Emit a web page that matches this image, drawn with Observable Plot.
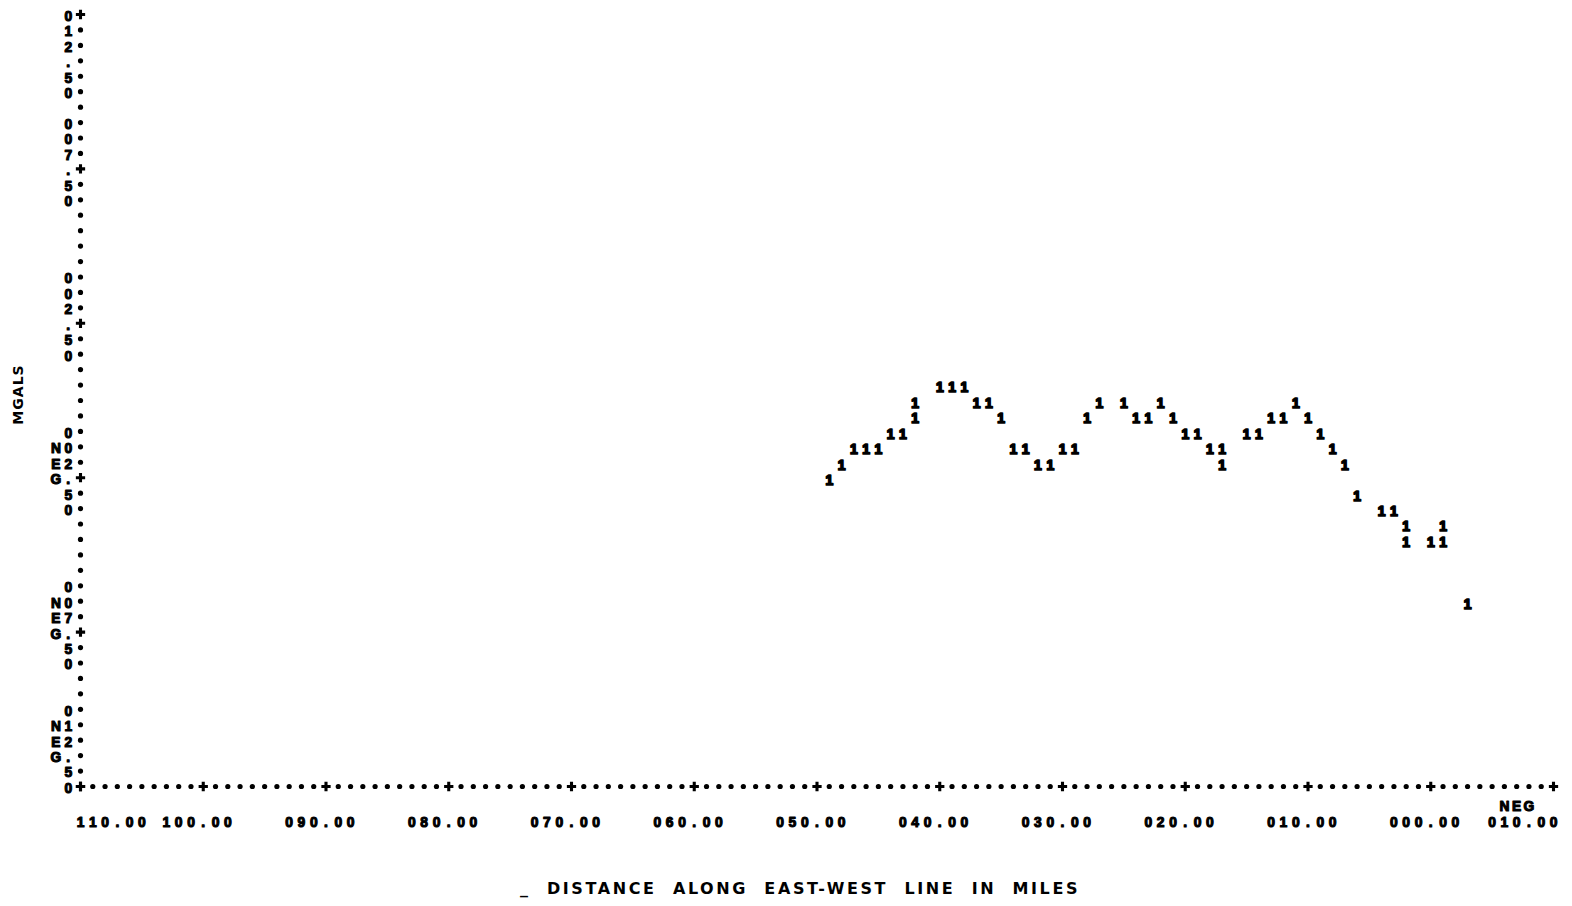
<!DOCTYPE html>
<html>
<head>
<meta charset="utf-8">
<script src="https://cdn.jsdelivr.net/npm/d3@7"></script>
<script src="https://cdn.jsdelivr.net/npm/@observablehq/plot@0.6"></script>
<style>
  html, body { margin: 0; padding: 0; background: #fff; }
  #chart { width: 1572px; height: 906px; }
</style>
</head>
<body>
<div id="chart"></div>
<script>
// ---- data ----
// distance along the east-west line (miles) and anomaly (mgals) of each "1" printed
const distance = [49,48,47,46,45,44,43,42,42,40,39,38,37,36,35,34,33,32,31,30,29,28,27,25,24,23,22,21,20,19,18,17,17,15,14,13,12,11,10,9,8,7,6,4,3,2,2,0,-1,-1,-3];
const mgals    = [-2.5,-2,-1.5,-1.5,-1.5,-1,-1,-0.5,0,0.5,0.5,0.5,0,0,-0.5,-1.5,-1.5,-2,-2,-1.5,-1.5,-0.5,0,0,-0.5,-0.5,0,-0.5,-1,-1,-1.5,-1.5,-2,-1,-1,-0.5,-0.5,0,-0.5,-1,-1.5,-2,-3,-3.5,-3.5,-4,-4.5,-4.5,-4,-4.5,-6.5];

// axes
const xDomain = [110, -10];
const yDomain = [-12.5, 12.5];
const xTickValues = [110, 100, 90, 80, 70, 60, 50, 40, 30, 20, 10, 0, -10];
const xTickLabels = ["110.00","100.00","090.00","080.00","070.00","060.00","050.00","040.00","030.00","020.00","010.00","000.00","010.00"];
const xTickNeg    = [false,false,false,false,false,false,false,false,false,false,false,false,true];
const yTickValues = [12.5, 7.5, 2.5, -2.5, -7.5, -12.5];
const yTickLabels = ["012.50","007.50","002.50","002.50","007.50","012.50"];
const yTickNeg    = [false,false,false,true,true,true];
const xTitle = "_  DISTANCE  ALONG  EAST-WEST  LINE  IN  MILES";
const yTitle = "MGALS";

// ---- build tables ----
const points = distance.map((d, i) => ({d, v: mgals[i]}));

const colStep = 1;    // one printer column = 1 mile
const rowStep = 0.5;  // one printer line = 0.5 mgal
const xMax = xDomain[0], xMin = xDomain[1];
const yMax = yDomain[1], yMin = yDomain[0];
const fs = 13.8;                  // printer glyph size

// axis dots / plus signs
const xAxisCols = d3.range(xMax, xMin - 0.001, -colStep);
const xPlus = xAxisCols.filter(c => c % 10 === 0);
const xDots = xAxisCols.filter(c => c % 10 !== 0);
const yAxisRows = d3.range(yMax, yMin - 0.001, -rowStep);
const yPlus = yAxisRows.filter(r => yTickValues.includes(r));
const yDots = yAxisRows.filter(r => !yTickValues.includes(r));

// x tick label characters on the printer grid ("." under the tick); "NEG" printed on the line above
const xChars = [];
xTickValues.forEach((t, i) => {
  const s = xTickLabels[i];
  let start = t + 3 * colStep;
  start = Math.min(start, xMax);
  start = Math.max(start, xMin + (s.length - 1) * colStep);
  [...s].forEach((ch, j) => xChars.push({c: start - j * colStep, line: 2.2, ch}));
  if (xTickNeg[i]) [..."NEG"].forEach((ch, j) => xChars.push({c: start - (j + 1) * colStep, line: 1.2, ch}));
});

// y tick label characters, written downward ("." on the tick line); "NEG" in the column to the left
const yChars = [];
yTickValues.forEach((t, i) => {
  const s = yTickLabels[i];
  let start = t + 3 * rowStep;
  start = Math.min(start, yMax);
  start = Math.max(start, yMin + (s.length - 1) * rowStep);
  [...s].forEach((ch, j) => yChars.push({r: start - j * rowStep, col: 1, ch}));
  if (yTickNeg[i]) [..."NEG"].forEach((ch, j) => yChars.push({r: start - (j + 1) * rowStep, col: 2, ch}));
});

const printFont = "'Liberation Sans', Arial, sans-serif";
const glyph = {fontFamily: printFont, fontSize: fs, fontWeight: "bold", fill: "#000", stroke: "#000", strokeWidth: 1.1, strokeLinejoin: "round"};

const chart = Plot.plot({
  width: 1572,
  height: 906,
  marginLeft: 80,
  marginRight: 19,
  marginTop: 14,
  marginBottom: 120,
  x: {domain: xDomain, axis: null},
  y: {domain: yDomain, axis: null},
  style: {fontFamily: "'DejaVu Sans', sans-serif", background: "#fff", color: "#000"},
  marks: [
    // x axis line of dots and plus signs
    Plot.dot(xDots, {x: d => d, y: () => yMin, r: 2.6, fill: "#000", stroke: "none"}),
    Plot.dot(xPlus, {x: d => d, y: () => yMin, r: 3.9, symbol: "cross", fill: "#000", stroke: "none"}),
    // y axis column
    Plot.dot(yDots, {x: () => xMax, y: d => d, r: 2.6, fill: "#000", stroke: "none"}),
    Plot.dot(yPlus, {x: () => xMax, y: d => d, r: 3.9, symbol: "cross", fill: "#000", stroke: "none"}),
    // x tick labels
    Plot.text(xChars, {x: "c", y: d => yMin - d.line * rowStep, text: "ch", dy: 2, ...glyph}),
    // y tick labels
    Plot.text(yChars, {x: d => xMax + d.col * colStep, y: "r", text: "ch", dy: 2, ...glyph}),
    // data: printed "1" symbols
    Plot.text(points, {x: "d", y: "v", text: () => "1", dy: 3, ...glyph, strokeWidth: 1.7}),
    // axis titles
    Plot.text([xTitle], {frameAnchor: "bottom", lineAnchor: "middle", textAnchor: "middle", dx: -17, dy: 102, fontSize: 16, fontWeight: "bold", fill: "#000"}),
    Plot.text([yTitle], {frameAnchor: "left", lineAnchor: "middle", textAnchor: "middle", dx: -62, dy: -6, rotate: -90, fontSize: 14, fontWeight: "bold", fill: "#000"})
  ]
});

// keep multiple spaces in the title, and spread letters like the printer did
d3.select(chart).selectAll("text").filter(function() { return this.textContent === xTitle; })
  .attr("xml:space", "preserve").style("white-space", "pre").style("letter-spacing", "2.6px");
d3.select(chart).selectAll("text").filter(function() { return this.textContent === yTitle; })
  .style("letter-spacing", "1px");

document.getElementById("chart").appendChild(chart);
</script>
</body>
</html>
